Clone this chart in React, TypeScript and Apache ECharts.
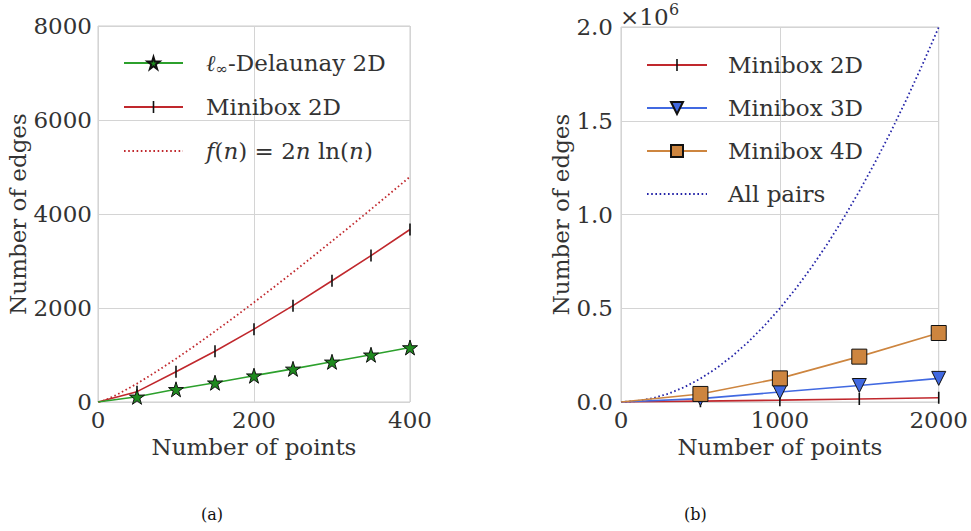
import { useEffect, useRef } from 'react';
import * as echarts from 'echarts';

// ---------- data ----------
const nLeft = [50, 100, 150, 200, 250, 300, 350, 400];
const delaunay2D = [110, 270, 410, 560, 705, 855, 1005, 1160];
const minibox2DLeft = [220, 645, 1080, 1550, 2050, 2580, 3115, 3670];
const fnX = [1, 10, 25, 50, 75, 100, 125, 150, 175, 200, 225, 250, 275, 300, 325, 350, 375, 400];
const fnY = [0, 46, 161, 391, 648, 921, 1207, 1503, 1808, 2119, 2437, 2761, 3089, 3422, 3759, 4101, 4445, 4793];

const nRight = [500, 1000, 1500, 2000];
const minibox2DRight = [4500, 10000, 16000, 22800];
const minibox3D = [18000, 53000, 88000, 126000];
const minibox4D = [43000, 126000, 242000, 368000];
const allPairsX = [0, 100, 200, 300, 400, 500, 600, 700, 800, 900, 1000, 1100, 1200, 1300, 1400, 1500, 1600, 1700, 1800, 1900, 2000];
const allPairsY = [0, 4950, 19900, 44850, 79800, 124750, 179700, 244650, 319600, 404550, 499500, 604450, 719400, 844350, 979300, 1124250, 1279200, 1444150, 1619100, 1804050, 1999000];

const leftYTicks = [0, 2000, 4000, 6000, 8000];
const rightYTicks = [0, 500000, 1000000, 1500000, 2000000];

// ---------- styles ----------
const FONT = 'DejaVu Serif';
const TXT = '#333333';
const GRIDC = '#d4d4d4';
const RED = '#c0282d';
const GREEN = '#2ca02c';
const STAR_FILL = '#1e8a1e';
const BLUE = '#4169e1';
const ORANGE = '#cd853f';
const NAVY = '#2424a8';
const CLEAR = 'rgba(0,0,0,0)';

const STAR = 'path://M50,0 L61,35 L98,35 L68,57 L79,91 L50,70 L21,91 L32,57 L2,35 L39,35 Z';
const VBAR = 'path://M5.2,0 L6.8,0 L6.8,12 L5.2,12 Z M0,6 L0.01,6 L0,6.01 Z M12,6 L12.01,6 L12,6.01 Z';
const TRI_DOWN = 'path://M0,0 L10,0 L5,9 Z';

const withOrigin = (xs: number[], ys: number[]) => [
  { value: [0, 0], symbol: 'none' },
  ...xs.map((x, i) => [x, ys[i]]),
];
const pairs = (xs: number[], ys: number[]) => xs.map((x, i) => [x, ys[i]]);

const labelStyle = { fontFamily: FONT, fontSize: 23, color: TXT };

function makeAxes() {
  const common = {
    type: 'value' as const,
    axisLine: { show: false },
    axisTick: { show: false },
    splitLine: { show: true, lineStyle: { color: GRIDC, width: 1 } },
    nameTextStyle: labelStyle,
    nameLocation: 'middle' as const,
  };
  const plain = (v: number) => String(v);
  const xAxis = [
    { ...common, gridIndex: 0, min: 0, max: 400, interval: 200, name: 'Number of points', nameGap: 30,
      axisLabel: { ...labelStyle, margin: 6, formatter: plain } },
    { ...common, gridIndex: 1, min: 0, max: 2000, interval: 1000, name: 'Number of points', nameGap: 30,
      axisLabel: { ...labelStyle, margin: 6, formatter: plain } },
  ];
  const yAxis = [
    { ...common, gridIndex: 0, min: leftYTicks[0], max: leftYTicks[leftYTicks.length - 1], interval: 2000,
      name: 'Number of edges', nameGap: 53, axisLabel: { ...labelStyle, margin: 6, formatter: plain } },
    { ...common, gridIndex: 1, min: rightYTicks[0], max: rightYTicks[rightYTicks.length - 1], interval: 500000,
      name: 'Number of edges', nameGap: 46,
      axisLabel: { ...labelStyle, margin: 8, formatter: (v: number) => (v / 1e6).toFixed(1) } },
  ];
  return { xAxis, yAxis };
}

const legendText = {
  fontFamily: FONT, fontSize: 23, color: TXT, lineHeight: 26,
  rich: {
    l: { fontFamily: FONT, fontSize: 23, fontStyle: 'italic', color: TXT, lineHeight: 26 },
    sub: { fontFamily: FONT, fontSize: 15, color: TXT, lineHeight: 26, verticalAlign: 'bottom', padding: [8, 0, 0, 0] },
    it: { fontFamily: FONT, fontSize: 23, fontStyle: 'italic', color: TXT, lineHeight: 26 },
    r: { fontFamily: FONT, fontSize: 23, color: TXT, lineHeight: 26 },
  },
};

const legendFormatter = (name: string) => {
  if (name === 'Linf-Delaunay 2D') return '{l|ℓ}{sub|∞}{r|-Delaunay 2D}';
  if (name === 'f(n)') return '{it|f}{r|(}{it|n}{r|) = 2}{it|n}{r| ln(}{it|n}{r|)}';
  return name;
};

export default function App() {
  const ref = useRef<HTMLDivElement>(null);
  useEffect(() => {
    const chart = echarts.init(ref.current!, null, { renderer: 'svg' });
    const { xAxis, yAxis } = makeAxes();
    const option: any = {
      animation: false,
      backgroundColor: '#ffffff',
      textStyle: { fontFamily: FONT },
      grid: [
        { left: 98, top: 26, width: 312, height: 376, show: true, borderColor: '#cccccc', borderWidth: 1 },
        { left: 621, top: 27, width: 323, height: 375, show: true, borderColor: '#cccccc', borderWidth: 1 },
      ],
      xAxis,
      yAxis,
      legend: [
        {
          orient: 'vertical', left: 123, top: 50, padding: 0, itemGap: 18,
          itemWidth: 59, itemHeight: 15,
          data: ['Linf-Delaunay 2D', 'Minibox 2D', 'f(n)'],
          formatter: legendFormatter,
          textStyle: { ...legendText, padding: [0, 0, 0, 18] },
          selectedMode: false,
        },
        {
          orient: 'vertical', left: 646, top: 52, padding: 0, itemGap: 17,
          itemWidth: 60, itemHeight: 15,
          data: ['Minibox 2D', 'Minibox 3D', 'Minibox 4D', 'All pairs'],
          formatter: legendFormatter,
          textStyle: { ...legendText, padding: [0, 0, 0, 16] },
          selectedMode: false,
        },
      ],
      series: [
        {
          name: 'f(n)', type: 'line', xAxisIndex: 0, yAxisIndex: 0,
          data: pairs(fnX, fnY), symbol: 'circle', showSymbol: false,
          lineStyle: { color: RED, width: 1.8, type: [1.6, 2.6] },
          itemStyle: { color: CLEAR, borderColor: CLEAR, borderWidth: 0 },
        },
        {
          name: 'Minibox 2D', type: 'line', xAxisIndex: 0, yAxisIndex: 0,
          data: withOrigin(nLeft, minibox2DLeft), symbol: VBAR, symbolSize: 12,
          lineStyle: { color: RED, width: 1.6 },
          itemStyle: { color: '#111111', borderWidth: 0 },
        },
        {
          name: 'Linf-Delaunay 2D', type: 'line', xAxisIndex: 0, yAxisIndex: 0,
          data: withOrigin(nLeft, delaunay2D), symbol: STAR, symbolSize: 15,
          lineStyle: { color: GREEN, width: 1.6 },
          itemStyle: { color: STAR_FILL, borderColor: '#111111', borderWidth: 1 },
        },
        {
          name: 'All pairs', type: 'line', xAxisIndex: 1, yAxisIndex: 1,
          data: pairs(allPairsX, allPairsY), symbol: 'circle', showSymbol: false,
          lineStyle: { color: NAVY, width: 1.8, type: [1.6, 2.6] },
          itemStyle: { color: CLEAR, borderColor: CLEAR, borderWidth: 0 },
        },
        {
          name: 'Minibox 2D', type: 'line', xAxisIndex: 1, yAxisIndex: 1,
          data: withOrigin(nRight, minibox2DRight), symbol: VBAR, symbolSize: 12,
          lineStyle: { color: RED, width: 1.6 },
          itemStyle: { color: '#111111', borderWidth: 0 },
        },
        {
          name: 'Minibox 3D', type: 'line', xAxisIndex: 1, yAxisIndex: 1,
          data: withOrigin(nRight, minibox3D), symbol: TRI_DOWN, symbolSize: 14,
          lineStyle: { color: BLUE, width: 1.6 },
          itemStyle: { color: BLUE, borderColor: '#111111', borderWidth: 1 },
        },
        {
          name: 'Minibox 4D', type: 'line', xAxisIndex: 1, yAxisIndex: 1,
          data: withOrigin(nRight, minibox4D), symbol: 'rect', symbolSize: 15,
          lineStyle: { color: ORANGE, width: 1.6 },
          itemStyle: { color: ORANGE, borderColor: '#111111', borderWidth: 1 },
        },
      ],
      graphic: [
        { type: 'text', left: 620, top: 5, style: { text: '×10', fontFamily: FONT, fontSize: 23, fill: TXT } },
        { type: 'text', left: 669, top: 1, style: { text: '6', fontFamily: FONT, fontSize: 16, fill: TXT } },
        { type: 'text', left: 201, top: 506, style: { text: '(a)', fontFamily: FONT, fontSize: 16, fill: '#111111' } },
        { type: 'text', left: 684, top: 506, style: { text: '(b)', fontFamily: FONT, fontSize: 16, fill: '#111111' } },
      ],
    };
    chart.setOption(option);
    return () => chart.dispose();
  }, []);
  return (
    <div
      ref={ref}
      style={{ position: 'absolute', left: 0, top: 0, width: 971, height: 531, background: '#ffffff' }}
    />
  );
}
